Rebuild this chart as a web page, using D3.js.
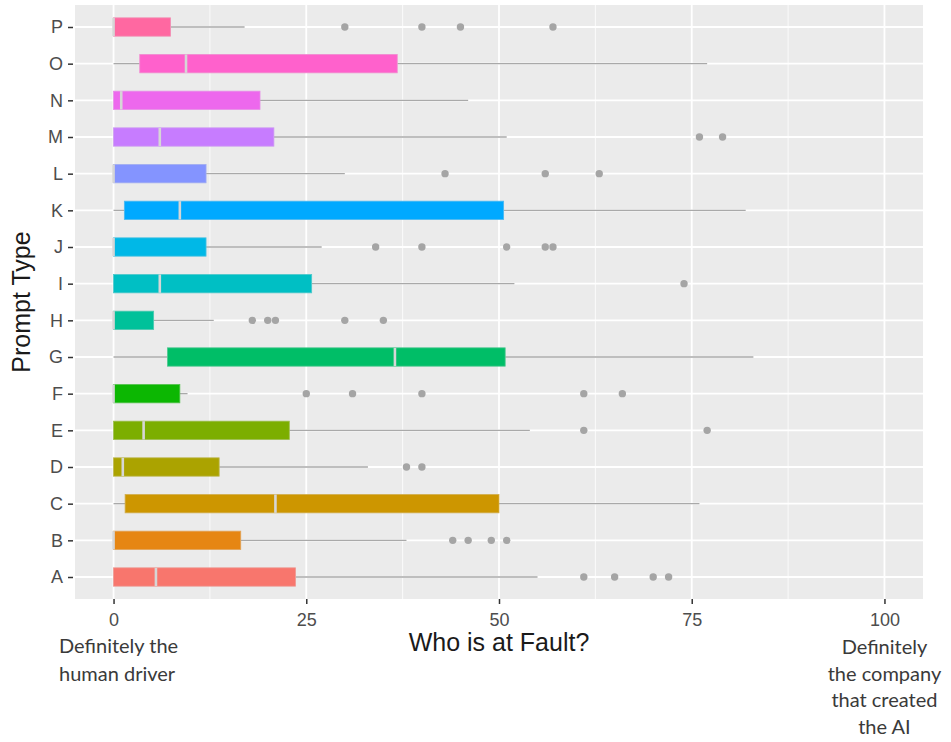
<!DOCTYPE html>
<html>
<head>
<meta charset="utf-8">
<script src="https://cdn.jsdelivr.net/npm/d3@7"></script>
<style>
  html, body { margin: 0; padding: 0; background: #ffffff; }
  svg { display: block; }
</style>
</head>
<body>
<svg id="chart" width="951" height="742"></svg>
<script>
// Prompt types, bottom (A) to top (P)
const categories = ["A","B","C","D","E","F","G","H","I","J","K","L","M","N","O","P"];

// Five-number summaries per prompt type (0 = human driver, 100 = company)
const lowWhisker  = [0, 0, 0,   0,   0,   0,   0,    0,   0,    0,  0,   0,  0,    0,  0,    0];
const q1          = [0, 0, 1.5, 0,   0,   0,   7,    0,   0,    0,  1.4, 0,  0,    0,  3.4,  0];
const median      = [5.5, 0, 21, 1.2, 3.9, 0,  36.5, 0,   6,    0,  8.6, 0,  6,    1,  9.4,  0];
const q3          = [23.6, 16.5, 50, 13.7, 22.8, 8.6, 50.8, 5.2, 25.7, 12, 50.6, 12, 20.8, 19, 36.8, 7.4];
const highWhisker = [55, 38, 76, 33, 54, 9.6, 83, 13, 52, 27, 82, 30, 51, 46, 77, 17];

// Outlying responses per prompt type
const outliers = [
  [61, 65, 70, 72],      // A
  [44, 46, 49, 51],      // B
  [],                    // C
  [38, 40],              // D
  [61, 77],              // E
  [25, 31, 40, 61, 66],  // F
  [],                    // G
  [18, 20, 21, 30, 35],  // H
  [74],                  // I
  [34, 40, 51, 56, 57],  // J
  [],                    // K
  [43, 56, 63],          // L
  [76, 79],              // M
  [],                    // N
  [],                    // O
  [30, 40, 45, 57]       // P
];

const xTicks = [0, 25, 50, 75, 100];
const xMinorTicks = [12.5, 37.5, 62.5, 87.5];

const leftNote = ["Definitely the", "human driver"];
const rightNote = ["Definitely", "the company", "that created", "the AI"];

// R-style hcl() (polar CIE-LUV) so the fills follow the default discrete hue palette
function hclR(h, c, l) {
  const Xn = 95.047, Yn = 100, Zn = 108.883;
  const hr = h * Math.PI / 180;
  const U = c * Math.cos(hr), V = c * Math.sin(hr);
  const Y = l > 8 ? Yn * Math.pow((l + 16) / 116, 3) : Yn * l / 903.3;
  const den = Xn + 15 * Yn + 3 * Zn;
  const un = 4 * Xn / den, vn = 9 * Yn / den;
  const up = U / (13 * l) + un, vp = V / (13 * l) + vn;
  const X = 9 * Y * up / (4 * vp);
  const Z = -X / 3 - 5 * Y + 3 * Y / vp;
  const x = X / 100, y = Y / 100, z = Z / 100;
  const lin = [
    3.240479 * x - 1.537150 * y - 0.498535 * z,
   -0.969256 * x + 1.875992 * y + 0.041556 * z,
    0.055648 * x - 0.204043 * y + 1.057311 * z
  ];
  const g = lin.map(v => {
    const s = v <= 0.0031308 ? 12.92 * v : 1.055 * Math.pow(v, 1 / 2.4) - 0.055;
    return Math.round(Math.max(0, Math.min(1, s)) * 255);
  });
  return d3.rgb(g[0], g[1], g[2]).formatHex();
}
const n = categories.length;
const fillColors = categories.map((_, i) => hclR(15 + i * 360 / n, 100, 65));

const rows = categories.map((cat, i) => ({
  cat, lo: lowWhisker[i], q1: q1[i], med: median[i], q3: q3[i], hi: highWhisker[i],
  out: outliers[i], fill: fillColors[i]
}));

const svg = d3.select("#chart");
const panel = { left: 75, right: 923, top: 5, bottom: 599 };
const sans = "'Liberation Sans', Arial, sans-serif";

const x = d3.scaleLinear().domain([-5, 105]).range([panel.left, panel.right]);
const y = d3.scalePoint().domain(categories).range([panel.bottom, panel.top]).padding(0.6);
const boxH = y.step() * 0.5;

// Panel background and grid
svg.append("rect")
  .attr("x", panel.left).attr("y", panel.top)
  .attr("width", panel.right - panel.left).attr("height", panel.bottom - panel.top)
  .attr("fill", "#ebebeb");

const grid = svg.append("g");
grid.selectAll("line.minor").data(xMinorTicks).join("line")
  .attr("x1", d => x(d)).attr("x2", d => x(d))
  .attr("y1", panel.top).attr("y2", panel.bottom)
  .attr("stroke", "#ffffff").attr("stroke-width", 0.8);
grid.selectAll("line.vmajor").data(xTicks).join("line")
  .attr("x1", d => x(d)).attr("x2", d => x(d))
  .attr("y1", panel.top).attr("y2", panel.bottom)
  .attr("stroke", "#ffffff").attr("stroke-width", 1.8);
grid.selectAll("line.hmajor").data(categories).join("line")
  .attr("x1", panel.left).attr("x2", panel.right)
  .attr("y1", d => y(d)).attr("y2", d => y(d))
  .attr("stroke", "#ffffff").attr("stroke-width", 1.8);

// Boxplots
const boxes = svg.append("g");
const g = boxes.selectAll("g.box").data(rows).join("g").attr("class", "box");

g.append("line")
  .attr("x1", d => x(d.lo)).attr("x2", d => x(d.q1))
  .attr("y1", d => y(d.cat)).attr("y2", d => y(d.cat))
  .attr("stroke", "#a9a9a9").attr("stroke-width", 1.3);
g.append("line")
  .attr("x1", d => x(d.q3)).attr("x2", d => x(d.hi))
  .attr("y1", d => y(d.cat)).attr("y2", d => y(d.cat))
  .attr("stroke", "#a9a9a9").attr("stroke-width", 1.3);

g.append("rect")
  .attr("x", d => x(d.q1)).attr("width", d => x(d.q3) - x(d.q1))
  .attr("y", d => y(d.cat) - boxH / 2).attr("height", boxH)
  .attr("fill", d => d.fill)
  .attr("stroke", d => d3.interpolateRgb(d.fill, "#d8d8d8")(0.35))
  .attr("stroke-width", 0.8);

g.append("line")
  .attr("x1", d => x(d.med)).attr("x2", d => x(d.med))
  .attr("y1", d => y(d.cat) - boxH / 2).attr("y2", d => y(d.cat) + boxH / 2)
  .attr("stroke", "#d6d6d6").attr("stroke-width", 2.6);

g.selectAll("circle").data(d => d.out.map(v => ({ v, cat: d.cat }))).join("circle")
  .attr("cx", d => x(d.v)).attr("cy", d => y(d.cat))
  .attr("r", 3.7).attr("fill", "#a5a5a5");

// Axes
const yAxis = d3.axisLeft(y).tickSize(5).tickPadding(5);
const yg = svg.append("g").attr("transform", `translate(${panel.left - 2},0)`).call(yAxis);
yg.select(".domain").remove();
yg.selectAll(".tick line").attr("stroke", "#333333").attr("stroke-width", 1.5);
yg.selectAll(".tick text")
  .attr("fill", "#4d4d4d").style("font-family", sans).style("font-size", "18px");

const xAxis = d3.axisBottom(x).tickValues(xTicks).tickSize(5).tickPadding(9).tickFormat(d3.format("d"));
const xg = svg.append("g").attr("transform", `translate(0,${panel.bottom})`).call(xAxis);
xg.select(".domain").remove();
xg.selectAll(".tick line").attr("stroke", "#333333").attr("stroke-width", 1.5);
xg.selectAll(".tick text")
  .attr("fill", "#4d4d4d").style("font-family", sans).style("font-size", "18px");

// Axis titles
svg.append("text")
  .attr("x", x(50)).attr("y", 651)
  .attr("text-anchor", "middle")
  .style("font-family", sans).style("font-size", "25px")
  .attr("fill", "#1a1a1a")
  .text("Who is at Fault?");

svg.append("text")
  .attr("transform", `translate(30,${(panel.top + panel.bottom) / 2}) rotate(-90)`)
  .attr("text-anchor", "middle")
  .style("font-family", sans).style("font-size", "25px")
  .attr("fill", "#1a1a1a")
  .text("Prompt Type");

// Scale end annotations
const noteStyle = sel => sel
  .style("font-family", "Lato, 'Open Sans', sans-serif").style("font-size", "20px")
  .attr("fill", "#3a3a3a");

svg.append("text").call(noteStyle)
  .attr("x", 59).attr("y", 653)
  .selectAll("tspan").data(leftNote).join("tspan")
  .attr("x", 59).attr("dy", (d, i) => i === 0 ? 0 : 27.5).text(d => d);

svg.append("text").call(noteStyle)
  .attr("x", x(100)).attr("y", 654).attr("text-anchor", "middle")
  .selectAll("tspan").data(rightNote).join("tspan")
  .attr("x", x(100)).attr("dy", (d, i) => i === 0 ? 0 : 26.5).text(d => d);
</script>
</body>
</html>
